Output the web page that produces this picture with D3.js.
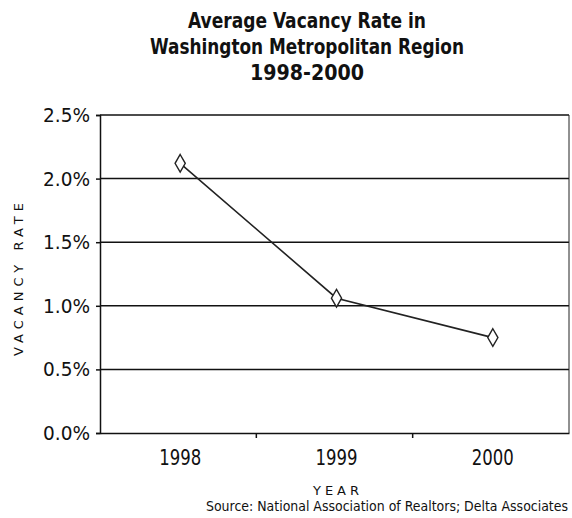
<!DOCTYPE html>
<html>
<head>
<meta charset="utf-8">
<script src="https://cdn.jsdelivr.net/npm/d3@7"></script>
<style>
  body { margin: 0; background: #fff; }
  svg { display: block; }
</style>
</head>
<body>
<div id="chart"></div>
<script>
var svgWidth = 572;
var svgHeight = 518;

// data
var years = ["1998", "1999", "2000"];
var vacancy = [2.12, 1.06, 0.75];
var yTicks = [0, 0.5, 1.0, 1.5, 2.0, 2.5];
var titleLines = ["Average Vacancy Rate in", "Washington Metropolitan Region", "1998-2000"];
var titleWidths = [238, 314, 114];

var condensed = "'DejaVu Sans Condensed', 'Liberation Sans Narrow', sans-serif";

var margin = { top: 115, right: 3, bottom: 85, left: 100 };
var width = svgWidth - margin.left - margin.right;
var height = svgHeight - margin.top - margin.bottom;

var svg = d3.select("#chart")
  .append("svg")
  .attr("width", svgWidth)
  .attr("height", svgHeight);

// title
svg.append("g")
  .selectAll("text")
  .data(titleLines)
  .enter()
  .append("text")
  .attr("x", 307)
  .attr("y", (d, i) => 28 + i * 26)
  .attr("text-anchor", "middle")
  .attr("textLength", (d, i) => titleWidths[i])
  .attr("lengthAdjust", "spacingAndGlyphs")
  .style("font-family", condensed)
  .style("font-weight", "bold")
  .style("font-size", "21px")
  .style("fill", "#111")
  .text(d => d);

var chartGroup = svg.append("g")
  .attr("transform", `translate(${margin.left}, ${margin.top})`);

var xScale = d3.scaleBand()
  .domain(years)
  .range([0, width]);

var yScale = d3.scaleLinear()
  .domain([0, 2.5])
  .range([height, 0]);

// horizontal grid lines
chartGroup.append("g")
  .selectAll("line")
  .data(yTicks.slice(1))
  .enter()
  .append("line")
  .attr("x1", 0)
  .attr("x2", width)
  .attr("y1", d => yScale(d))
  .attr("y2", d => yScale(d))
  .attr("stroke", "#111")
  .attr("stroke-width", 1.5);

// right border
chartGroup.append("line")
  .attr("x1", width)
  .attr("x2", width)
  .attr("y1", 0)
  .attr("y2", height)
  .attr("stroke", "#222")
  .attr("stroke-width", 1);

var leftAxis = d3.axisLeft(yScale)
  .tickValues(yTicks)
  .tickFormat(d => d.toFixed(1) + "%")
  .tickSize(4)
  .tickPadding(6);

var yAxis = chartGroup.append("g")
  .call(leftAxis);

yAxis.select(".domain").attr("stroke", "#111").attr("stroke-width", 1.5);
yAxis.selectAll(".tick line").attr("stroke", "#111").attr("stroke-width", 1.5);
yAxis.selectAll("text")
  .attr("textLength", 47)
  .attr("lengthAdjust", "spacingAndGlyphs")
  .style("font-family", condensed)
  .style("font-size", "20px")
  .style("fill", "#111");

// x axis: ticks sit between categories
var bottomAxis = d3.axisBottom(xScale)
  .tickSize(0)
  .tickPadding(17);

var xAxis = chartGroup.append("g")
  .attr("transform", `translate(0, ${height})`)
  .call(bottomAxis);

xAxis.select(".domain").attr("stroke", "#111").attr("stroke-width", 1.5);
xAxis.selectAll("text")
  .attr("dx", 2)
  .attr("textLength", 42)
  .attr("lengthAdjust", "spacingAndGlyphs")
  .style("font-family", condensed)
  .style("font-size", "21px")
  .style("fill", "#111");

xAxis.selectAll(".sep")
  .data(years.slice(1))
  .enter()
  .append("line")
  .attr("class", "sep")
  .attr("x1", d => xScale(d))
  .attr("x2", d => xScale(d))
  .attr("y1", 0)
  .attr("y2", 5)
  .attr("stroke", "#111")
  .attr("stroke-width", 1.5);

// the data line
var points = years.map((y, i) => ({ year: y, value: vacancy[i] }));

var line = d3.line()
  .x(d => xScale(d.year) + xScale.bandwidth() / 2 + 2)
  .y(d => yScale(d.value));

chartGroup.append("path")
  .datum(points)
  .attr("d", line)
  .attr("fill", "none")
  .attr("stroke", "#222")
  .attr("stroke-width", 1.6);

chartGroup.selectAll(".marker")
  .data(points)
  .enter()
  .append("path")
  .attr("class", "marker")
  .attr("d", d3.symbol().type(d3.symbolDiamond).size(90))
  .attr("transform", d => `translate(${xScale(d.year) + xScale.bandwidth() / 2 + 2}, ${yScale(d.value)})`)
  .attr("fill", "#fff")
  .attr("stroke", "#222")
  .attr("stroke-width", 1.4);

// axis titles
svg.append("text")
  .attr("transform", "translate(23, 277) rotate(-90)")
  .attr("text-anchor", "middle")
  .style("font-family", "'DejaVu Sans', sans-serif")
  .style("font-size", "13px")
  .style("letter-spacing", "5px")
  .style("fill", "#111")
  .text("VACANCY RATE");

svg.append("text")
  .attr("x", 338)
  .attr("y", 495)
  .attr("text-anchor", "middle")
  .style("font-family", "'DejaVu Sans', sans-serif")
  .style("font-size", "13px")
  .style("letter-spacing", "4px")
  .style("fill", "#111")
  .text("YEAR");

svg.append("text")
  .attr("x", 568)
  .attr("y", 511)
  .attr("text-anchor", "end")
  .attr("textLength", 362)
  .attr("lengthAdjust", "spacingAndGlyphs")
  .style("font-family", condensed)
  .style("font-size", "14px")
  .style("fill", "#111")
  .text("Source: National Association of Realtors; Delta Associates");
</script>
</body>
</html>
